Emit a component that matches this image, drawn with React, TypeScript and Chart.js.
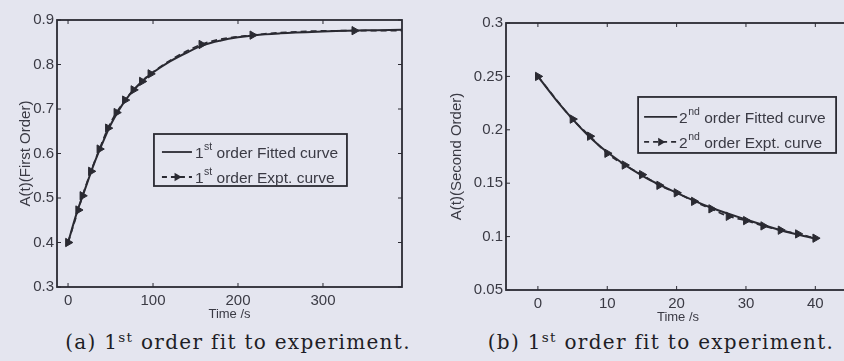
import React, { useEffect, useRef } from "react";
import { Chart, registerables } from "chart.js";

Chart.register(...registerables);

const BG = "#e4e5ef";
const INK = "#2a2a32";
const TEXT = "#3a3a44";
const SANS = "'Liberation Sans', Arial, Helvetica, sans-serif";

// ---------- Panel (a): first order ----------
const timeFitA = [0, 10, 20, 30, 40, 50, 60, 70, 80, 90, 100, 120, 140, 160, 180, 200, 220, 250, 300, 350, 393];
const fitA = [0.4, 0.465, 0.52, 0.574, 0.621, 0.664, 0.698, 0.726, 0.748, 0.767, 0.782, 0.807, 0.827, 0.844, 0.854, 0.861, 0.866, 0.870, 0.874, 0.877, 0.878];
const timeExptA = [0, 12, 17, 27, 37, 47, 57, 67, 77, 87, 97, 157, 217, 337, 393];
const exptA = [0.4, 0.473, 0.505, 0.56, 0.61, 0.657, 0.692, 0.72, 0.743, 0.762, 0.779, 0.845, 0.866, 0.876, 0.876];
const xTicksA = [0, 100, 200, 300];
const yTicksA = [0.3, 0.4, 0.5, 0.6, 0.7, 0.8, 0.9];
const legendA = [
  ["1", "st", " order Fitted curve"],
  ["1", "st", " order Expt. curve"],
];
const yTitleA = "A(t)(First Order)";

// ---------- Panel (b): second order ----------
const timeFitB = [0, 2.5, 5, 7.5, 10, 15, 20, 25, 30, 35, 40];
const fitB = [0.25, 0.229, 0.21, 0.193, 0.179, 0.157, 0.141, 0.127, 0.116, 0.106, 0.098];
const timeExptB = [0, 5, 7.5, 10, 12.5, 15, 17.5, 20, 22.5, 25, 27.5, 30, 32.5, 35, 37.5, 40];
const exptB = [0.25, 0.21, 0.194, 0.178, 0.167, 0.158, 0.148, 0.141, 0.133, 0.126, 0.119, 0.115, 0.11, 0.106, 0.1025, 0.0985];
const xTicksB = [0, 10, 20, 30, 40];
const yTicksB = [0.05, 0.1, 0.15, 0.2, 0.25, 0.3];
const legendB = [
  ["2", "nd", " order Fitted curve"],
  ["2", "nd", " order Expt. curve"],
];
const yTitleB = "A(t)(Second Order)";

const xTitle = "Time /s";

const matlabPlugin = {
  id: "matlab",
  afterDatasetsDraw(chart: any, _args: any, opts: any) {
    const { ctx, chartArea: a, scales } = chart;
    const xs = scales.x;
    const ys = scales.y;
    ctx.save();
    ctx.strokeStyle = INK;
    ctx.setLineDash([]);
    ctx.lineWidth = 1.8;
    ctx.strokeRect(a.left, a.top, a.right - a.left, a.bottom - a.top);
    ctx.lineWidth = 1;
    const L = 4;
    ctx.beginPath();
    xs.ticks.forEach((t: any) => {
      const px = xs.getPixelForValue(t.value);
      ctx.moveTo(px, a.bottom);
      ctx.lineTo(px, a.bottom - L);
      ctx.moveTo(px, a.top);
      ctx.lineTo(px, a.top + L);
    });
    ys.ticks.forEach((t: any) => {
      const py = ys.getPixelForValue(t.value);
      ctx.moveTo(a.left, py);
      ctx.lineTo(a.left + L, py);
      ctx.moveTo(a.right, py);
      ctx.lineTo(a.right - L, py);
    });
    ctx.stroke();

    const lg = opts.legend;
    if (lg) {
      const bx = a.left + lg.fx * (a.right - a.left);
      const by = a.top + lg.fy * (a.bottom - a.top);
      ctx.fillStyle = BG;
      ctx.fillRect(bx, by, lg.w, lg.h);
      ctx.lineWidth = 1.8;
      ctx.strokeStyle = INK;
      ctx.strokeRect(bx, by, lg.w, lg.h);
      lg.rows.forEach((row: string[], i: number) => {
        const cy = by + lg.rowY[i];
        const x0 = bx + lg.lineX0;
        const x1 = bx + lg.lineX1;
        ctx.strokeStyle = INK;
        ctx.lineWidth = 1.8;
        ctx.beginPath();
        if (i === 1) ctx.setLineDash([5, 4]);
        else ctx.setLineDash([]);
        ctx.moveTo(x0, cy);
        ctx.lineTo(x1, cy);
        ctx.stroke();
        ctx.setLineDash([]);
        if (i === 1) {
          const cx = (x0 + x1) / 2;
          const r = 4.8;
          ctx.fillStyle = INK;
          ctx.beginPath();
          ctx.moveTo(cx + r, cy);
          ctx.lineTo(cx - r * 0.5, cy - r * 0.87);
          ctx.lineTo(cx - r * 0.5, cy + r * 0.87);
          ctx.closePath();
          ctx.fill();
        }
        ctx.fillStyle = TEXT;
        ctx.textBaseline = "middle";
        ctx.textAlign = "left";
        let tx = bx + lg.textX;
        ctx.font = `15.5px ${SANS}`;
        ctx.fillText(row[0], tx, cy + 2);
        tx += ctx.measureText(row[0]).width;
        ctx.font = `10.5px ${SANS}`;
        ctx.fillText(row[1], tx + 0.5, cy - 5);
        tx += ctx.measureText(row[1]).width + 0.5;
        ctx.font = `15.5px ${SANS}`;
        ctx.fillText(row[2], tx, cy + 2);
      });
    }
    ctx.restore();
  },
};

function makeConfig(p: any): any {
  return {
    type: "line",
    data: {
      datasets: [
        {
          label: "expt",
          data: p.tExpt.map((t: number, i: number) => ({ x: t, y: p.expt[i] })),
          borderColor: INK,
          borderWidth: 1.7,
          borderDash: [6, 4],
          pointStyle: "triangle",
          pointRotation: 90,
          pointRadius: p.tExpt.map((_: number, i: number) => (p.hideLast && i === p.tExpt.length - 1 ? 0 : 4.8)),
          pointBackgroundColor: INK,
          pointBorderColor: INK,
          pointBorderWidth: 1,
          fill: false,
          cubicInterpolationMode: "monotone",
          order: 0,
        },
        {
          label: "fit",
          data: p.tFit.map((t: number, i: number) => ({ x: t, y: p.fit[i] })),
          borderColor: INK,
          borderWidth: 2,
          pointRadius: 0,
          fill: false,
          cubicInterpolationMode: "monotone",
          order: 1,
        },
      ],
    },
    options: {
      animation: false,
      responsive: false,
      maintainAspectRatio: false,
      layout: { padding: p.padding },
      plugins: {
        legend: { display: false },
        tooltip: { enabled: false },
        matlab: { legend: p.legend },
      },
      scales: {
        x: {
          type: "linear",
          min: p.xMin,
          max: p.xMax,
          afterBuildTicks: (s: any) => {
            s.ticks = p.xTicks.map((v: number) => ({ value: v }));
          },
          afterFit: (s: any) => {
            s.height = p.xH;
          },
          grid: { display: false, drawTicks: false },
          border: { display: false },
          ticks: {
            autoSkip: false,
            maxRotation: 0,
            padding: p.xTickPad,
            color: TEXT,
            font: { family: SANS, size: 15 },
            callback: (v: any) => String(v),
          },
          title: {
            display: true,
            text: xTitle,
            color: TEXT,
            font: { family: SANS, size: 13 },
            padding: { top: 0, bottom: p.xTitlePad },
          },
        },
        y: {
          type: "linear",
          min: p.yMin,
          max: p.yMax,
          afterBuildTicks: (s: any) => {
            s.ticks = p.yTicks.map((v: number) => ({ value: v }));
          },
          afterFit: (s: any) => {
            s.width = p.yW;
          },
          grid: { display: false, drawTicks: false },
          border: { display: false },
          ticks: {
            autoSkip: false,
            padding: 3,
            color: TEXT,
            font: { family: SANS, size: 15 },
            callback: (v: any) => String(v),
          },
          title: {
            display: true,
            text: p.yTitle,
            color: TEXT,
            font: { family: SANS, size: 15 },
            padding: { top: p.yTitlePad, bottom: 0 },
          },
        },
      },
    },
    plugins: [matlabPlugin],
  };
}

const panelA = {
  tFit: timeFitA,
  fit: fitA,
  tExpt: timeExptA,
  expt: exptA,
  hideLast: true,
  xTicks: xTicksA,
  yTicks: yTicksA,
  xMin: -13,
  xMax: 393,
  yMin: 0.3,
  yMax: 0.9,
  yTitle: yTitleA,
  padding: { top: 20, right: 18, bottom: 0, left: 0 },
  xH: 38,
  yW: 57,
  xTickPad: 5,
  xTitlePad: 3,
  yTitlePad: 17,
  legend: { fx: 0.281, fy: 0.427, w: 193, h: 52, rowY: [18, 43], lineX0: 8, lineX1: 38, textX: 41, rows: legendA },
};

const panelB = {
  tFit: timeFitB,
  fit: fitB,
  tExpt: timeExptB,
  expt: exptB,
  hideLast: false,
  xTicks: xTicksB,
  yTicks: yTicksB,
  xMin: -4.6,
  xMax: 45,
  yMin: 0.05,
  yMax: 0.3,
  yTitle: yTitleB,
  padding: { top: 23, right: 10, bottom: 0, left: 0 },
  xH: 35,
  yW: 86,
  xTickPad: 5,
  xTitlePad: 0,
  yTitlePad: 28,
  legend: { fx: 0.384, fy: 0.277, w: 198, h: 56, rowY: [20, 45], lineX0: 6, lineX1: 39, textX: 41, rows: legendB },
};

function Panel({ cfg, left, width }: { cfg: any; left: number; width: number }) {
  const ref = useRef<HTMLCanvasElement>(null);
  useEffect(() => {
    if (!ref.current) return;
    const chart = new Chart(ref.current, makeConfig(cfg));
    return () => chart.destroy();
  }, [cfg]);
  return (
    <canvas
      ref={ref}
      width={width}
      height={325}
      style={{ position: "absolute", left, top: 0, width, height: 325 }}
    />
  );
}

const captionStyle: React.CSSProperties = {
  position: "absolute",
  top: 330,
  transform: "translateX(-50%)",
  whiteSpace: "nowrap",
  fontFamily: "'DejaVu Serif', 'Liberation Serif', serif",
  fontSize: 20,
  letterSpacing: 1.3,
  lineHeight: "24px",
  color: "#1e1e26",
};

export default function App() {
  useEffect(() => {
    document.body.style.margin = "0";
    document.body.style.background = BG;
  }, []);
  return (
    <div style={{ position: "relative", width: 844, height: 361, overflow: "hidden", background: BG }}>
      <Panel cfg={panelA} left={0} width={420} />
      <Panel cfg={panelB} left={420} width={440} />
      <div style={{ ...captionStyle, left: 238 }}>
        (a) 1<sup style={{ fontSize: "0.68em", verticalAlign: "0.55em", lineHeight: 0 }}>st</sup> order fit to experiment.
      </div>
      <div style={{ ...captionStyle, left: 661 }}>
        (b) 1<sup style={{ fontSize: "0.68em", verticalAlign: "0.55em", lineHeight: 0 }}>st</sup> order fit to experiment.
      </div>
    </div>
  );
}
